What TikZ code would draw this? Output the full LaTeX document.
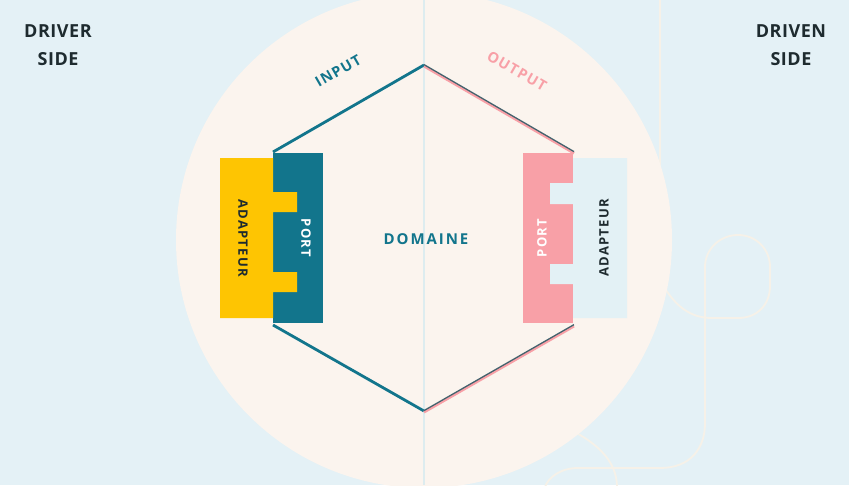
\documentclass[tikz,border=0pt]{standalone}
\usepackage{fontspec}
\setmainfont{Open Sans}
\newfontfamily\hdr{Open Sans}[LetterSpace=3]
\newfontfamily\spc{Open Sans}[LetterSpace=9]
\newfontfamily\spcd{Open Sans}[LetterSpace=13]
\newfontfamily\spcb{Open Sans}[LetterSpace=10]
\definecolor{bg}{HTML}{E4F1F6}
\definecolor{cream}{HTML}{FBF4EE}
\definecolor{teal}{HTML}{12758C}
\definecolor{yel}{HTML}{FEC502}
\definecolor{pnk}{HTML}{F8A0A7}
\definecolor{lblue}{HTML}{E3F1F5}
\definecolor{deco}{HTML}{F6F1E8}
\definecolor{divl}{HTML}{DDECEF}
\definecolor{darkline}{HTML}{44636E}
\definecolor{txt}{HTML}{1E2B2F}
\begin{document}
\begin{tikzpicture}[x=1pt,y=-1pt,
  decoline/.style={draw=deco,line width=1.8pt,line cap=round},
  hexteal/.style={draw=teal,line width=2.8pt,line join=miter},
  sidelabel/.style={font=\hdr\bfseries\fontsize{18}{28}\selectfont,text=txt,align=center},
  vlabel/.style={font=\spcb\bfseries\fontsize{13}{14}\selectfont,inner sep=0pt}]
\useasboundingbox (0,0) rectangle (849,485);
\fill[bg] (0,0) rectangle (849,485);
% decorative lines
\draw[decoline] (660,0) -- (660,165);
\draw[decoline] (664,287) .. controls (676,306) and (690,318) .. (712,318)
  -- (738,318) .. controls (758,318) and (770,304) .. (770,286)
  -- (770,267) .. controls (770,249) and (756,235) .. (738,235)
  .. controls (720,235) and (705,249) .. (705,267)
  -- (705,423) .. controls (705,449) and (690,468) .. (660,468)
  -- (578,468) .. controls (560,468) and (548,478) .. (545,487);
\draw[decoline] (560,425) .. controls (595,440) and (617,460) .. (617,487);
% big circle
\fill[cream] (424,240) circle[radius=248];
% centre divider
\draw[divl,line width=1.6pt] (424,0) -- (424,485);
% hexagon
\coordinate (top) at (424,65);
\coordinate (ul) at (273,152);
\coordinate (ll) at (273,325);
\coordinate (bot) at (424,411);
\coordinate (ur) at (574,152);
\coordinate (lr) at (574,325);
\draw[hexteal] (ul) -- (top);
\draw[hexteal] (ll) -- (bot);
\draw[pnk,line width=2.6pt] ([yshift=-1.2pt]top) -- ([yshift=-1.2pt]ur);
\draw[pnk,line width=2.6pt] ([yshift=-1.2pt]bot) -- ([yshift=-1.2pt]lr);
\draw[darkline,line width=1.3pt] ([yshift=0.4pt]top) -- ([yshift=0.4pt]ur);
\draw[darkline,line width=1.3pt] ([yshift=0.4pt]bot) -- ([yshift=0.4pt]lr);
% left port and adapter
\fill[teal] (273,153) rectangle (323,323);
\fill[yel] (220,158) -- (273,158) -- (273,192) -- (297,192) -- (297,212) -- (273,212)
  -- (273,272) -- (297,272) -- (297,292) -- (273,292) -- (273,318) -- (220,318) -- cycle;
% right port and adapter
\fill[pnk] (523,153) rectangle (573,323);
\fill[lblue] (573,158) -- (627,158) -- (627,318) -- (573,318) -- (573,284) -- (550,284)
  -- (550,264) -- (573,264) -- (573,204) -- (550,204) -- (550,183) -- (573,183) -- cycle;
% labels
\node[sidelabel] (driver) at (58,45) {DRIVER\\SIDE};
\node[sidelabel] (driven) at (791,45) {DRIVEN\\SIDE};
\node[font=\spc\bfseries\fontsize{14.5}{15}\selectfont,text=teal,rotate=30,inner sep=0pt] (input) at (338,71) {INPUT};
\node[font=\spc\bfseries\fontsize{14.5}{15}\selectfont,text=pnk,rotate=-30,inner sep=0pt] (output) at (517,71) {OUTPUT};
\node[font=\spcd\bfseries\fontsize{15}{16}\selectfont,text=teal,inner sep=0pt] (domaine) at (426,239) {DOMAINE};
\node[vlabel,text=txt,rotate=-90] (adl) at (243,238) {ADAPTEUR};
\node[vlabel,text=white,rotate=-90] (portl) at (306,238) {PORT};
\node[vlabel,text=white,rotate=90] (portr) at (542,238) {PORT};
\node[vlabel,text=txt,rotate=90] (adr) at (604,238) {ADAPTEUR};
\end{tikzpicture}
\end{document}
